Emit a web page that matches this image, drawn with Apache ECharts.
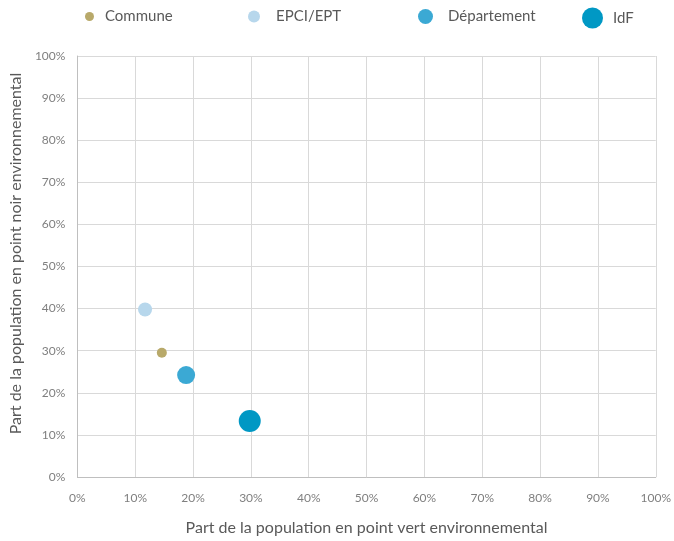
<!DOCTYPE html>
<html>
<head>
<meta charset="utf-8">
<script src="https://cdn.jsdelivr.net/npm/echarts@6/dist/echarts.min.js"></script>
<style>
  html, body { margin: 0; padding: 0; background: #fff; }
  #chart { width: 674px; height: 541px; }
</style>
</head>
<body>
<div id="chart"></div>
<script>
// Territorial levels and their share of population (x: green spot, y: black spot), in %
const seriesNames = ['Commune', 'EPCI/EPT', 'Département', 'IdF'];
const greenShare = [14.6, 11.7, 18.8, 29.8];
const blackShare = [29.5, 39.8, 24.2, 13.3];
const colors = ['#b8a96a', '#b7d7ec', '#3ba9d4', '#0098c4'];
const markerSizes = [10, 14, 18, 22];
const legendIconSizes = [9, 12, 15, 21];
const legendLeft = [85, 248, 418, 582];
const legendTextGap = [11, 16, 15, 10];
const axisTicks = [0, 10, 20, 30, 40, 50, 60, 70, 80, 90, 100];

const font = 'Lato, "Open Sans", sans-serif';
const textColor = '#595959';
const tickColor = '#7f7f7f';

const chart = echarts.init(document.getElementById('chart'), null, { renderer: 'canvas' });

// one legend per level so each icon can keep its own size
const legendCenterY = 18;
const legends = seriesNames.map((name, i) => ({
  data: [name],
  left: legendLeft[i],
  top: legendCenterY - Math.max(legendIconSizes[i], 18) / 2,
  padding: 0,
  icon: 'circle',
  itemWidth: legendIconSizes[i],
  itemHeight: legendIconSizes[i],
  itemGap: 0,
  textStyle: { fontFamily: font, fontSize: 15, color: textColor, padding: [0, 0, 0, legendTextGap[i] - 5] },
  selectedMode: false
}));

const series = seriesNames.map((name, i) => ({
  name: name,
  type: 'scatter',
  data: [[greenShare[i], blackShare[i]]],
  symbol: 'circle',
  symbolSize: markerSizes[i],
  itemStyle: { color: colors[i], opacity: 1 },
  z: 2 + i
}));

const pctLabel = v => v + '%';

chart.setOption({
  animation: false,
  backgroundColor: '#ffffff',
  legend: legends,
  grid: { left: 73, right: 16, top: 56, bottom: 57, containLabel: false },
  xAxis: {
    type: 'value',
    min: axisTicks[0],
    max: axisTicks[axisTicks.length - 1],
    interval: 10,
    name: 'Part de la population en point vert environnemental',
    nameLocation: 'middle',
    nameGap: 43,
    nameTextStyle: { fontFamily: font, fontSize: 16, color: textColor },
    axisLine: { show: true, lineStyle: { color: '#bfbfbf', width: 1 } },
    axisTick: { show: false },
    axisLabel: { formatter: pctLabel, fontFamily: font, fontSize: 12, color: tickColor, margin: 15 },
    splitLine: { show: true, lineStyle: { color: '#d9d9d9', width: 1 } }
  },
  yAxis: {
    type: 'value',
    min: axisTicks[0],
    max: axisTicks[axisTicks.length - 1],
    interval: 10,
    name: 'Part de la population en point noir environnemental',
    nameLocation: 'middle',
    nameGap: 52,
    nameTextStyle: { fontFamily: font, fontSize: 16, color: textColor, padding: [0, 0, 0, 26] },
    axisLine: { show: true, lineStyle: { color: '#bfbfbf', width: 1 } },
    axisTick: { show: false },
    axisLabel: { formatter: pctLabel, fontFamily: font, fontSize: 12, color: tickColor, margin: 12 },
    splitLine: { show: true, lineStyle: { color: '#d9d9d9', width: 1 } }
  },
  series: series
});
</script>
</body>
</html>
